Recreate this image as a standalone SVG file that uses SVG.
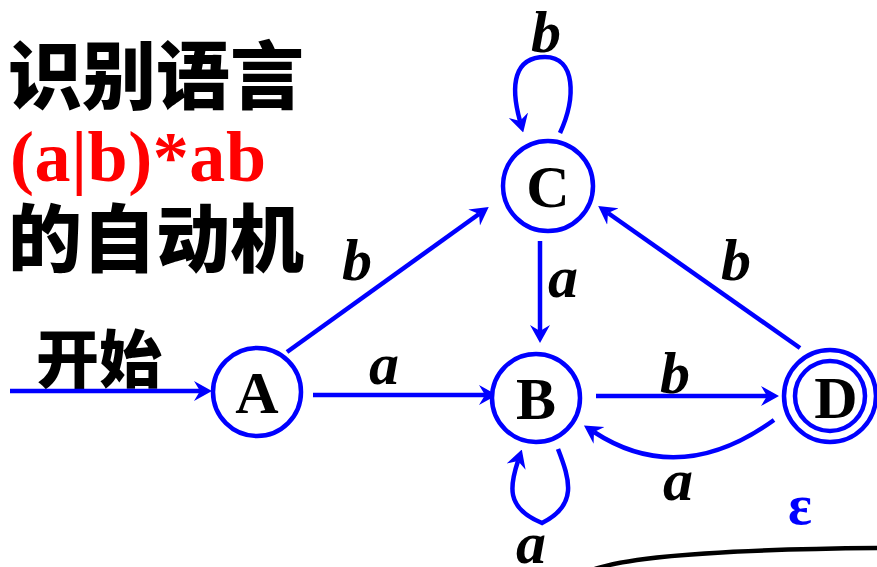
<svg xmlns="http://www.w3.org/2000/svg" width="877" height="567" viewBox="0 0 877 567">
<style>
.node{fill:#fff;stroke:#0000ff;stroke-width:4.5}
.edge{fill:none;stroke:#0000ff;stroke-width:4.5}
.nl{font-family:"Liberation Serif",serif;font-weight:bold;font-size:60px;fill:#000;text-anchor:middle}
.el{font-family:"Liberation Serif",serif;font-weight:bold;font-style:italic;font-size:60px;fill:#000;text-anchor:middle}
.cjk{font-family:"Noto Sans CJK SC",sans-serif;font-weight:900;fill:#000}
</style>
<defs>
<marker id="ah" viewBox="0 0 18 22" refX="6" refY="11" markerWidth="18" markerHeight="22" markerUnits="userSpaceOnUse" orient="auto">
<path d="M0,1 L18,11 L0,21 L6,11 z" fill="#0000ff"/>
</marker>
</defs>
<rect width="877" height="567" fill="#fff"/>
<g id="title">
<text class="cjk" x="8" y="103" font-size="74">识别语言</text>
<text x="10" y="181" font-family="Liberation Serif,serif" font-weight="bold" font-size="72" textLength="256" fill="#ff0000">(a|b)*ab</text>
<text class="cjk" x="8" y="266" font-size="74">的自动机</text>
<text class="cjk" x="36" y="382" font-size="63">开始</text>
</g>
<g id="connectors">
<path class="edge" d="M10,391 L200,391" marker-end="url(#ah)"/>
<path class="edge" d="M313,395 L485,395" marker-end="url(#ah)"/>
<path class="edge" d="M287,352 L479,214" marker-end="url(#ah)"/>
<path class="edge" d="M540,241 L540,331" marker-end="url(#ah)"/>
<path class="edge" d="M596,396 L767,396" marker-end="url(#ah)"/>
<path class="edge" d="M800,348 L608,213" marker-end="url(#ah)"/>
<path class="edge" d="M774,420 Q680,488 594,432" marker-end="url(#ah)"/>
<path class="edge" d="M560,133 C576,98 576,57 545,57 C514,57 510,85 520,121" marker-end="url(#ah)"/>
<path class="edge" d="M558,449 C570,480 578,505 542,523 C505,508 510,485 518,461" marker-end="url(#ah)"/>
<text class="el" x="546" y="52">b</text>
<text class="el" x="357" y="280">b</text>
<text class="el" x="384" y="384">a</text>
<text class="el" x="563" y="297">a</text>
<text class="el" x="675" y="393">b</text>
<text class="el" x="736" y="280">b</text>
<text class="el" x="678" y="500">a</text>
<text class="el" x="531" y="563">a</text>
</g>
<g id="A"><circle class="node" cx="257" cy="392" r="44"/><text class="nl" x="257" y="413">A</text></g>
<g id="B"><circle class="node" cx="536" cy="398" r="44"/><text class="nl" x="536" y="419">B</text></g>
<g id="C"><circle class="node" cx="548" cy="186" r="45"/><text class="nl" x="548" y="207">C</text></g>
<g id="D"><circle class="node" cx="830" cy="396" r="46"/><circle class="node" cx="830" cy="396" r="35" fill="none"/><text class="nl" x="836" y="418">D</text></g>
<text x="800" y="524" font-family="Liberation Serif,serif" font-weight="bold" font-size="56" fill="#0000ff" text-anchor="middle">ε</text>
<path d="M595,569 Q650,550 877,548" fill="none" stroke="#000" stroke-width="4.5"/>
</svg>
